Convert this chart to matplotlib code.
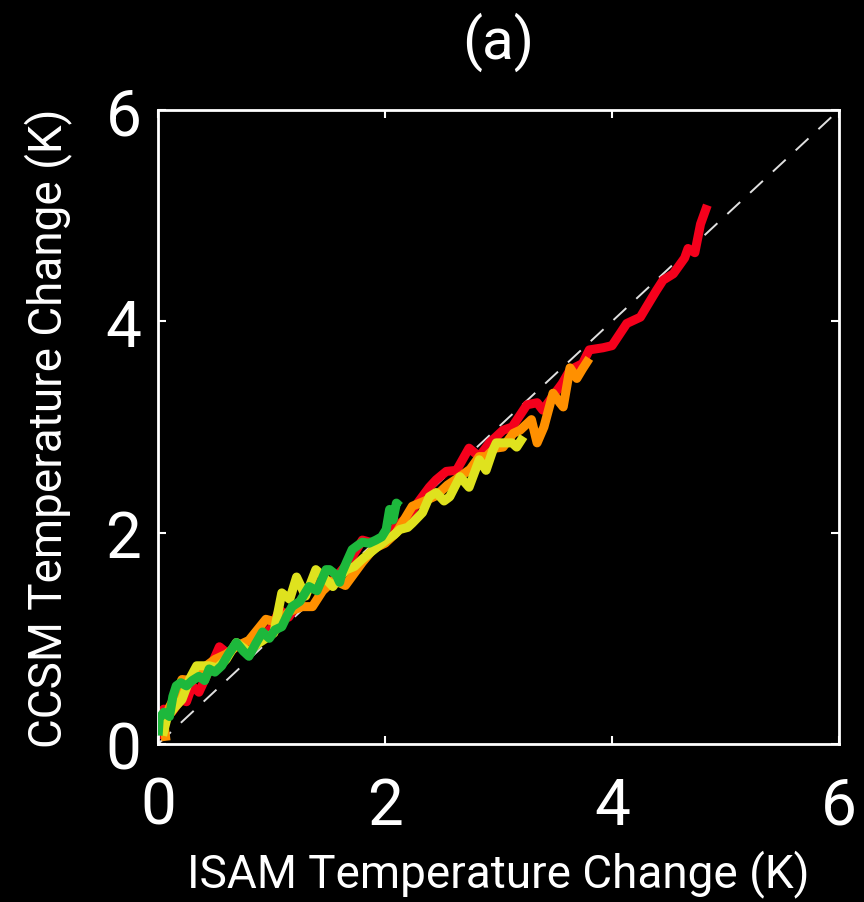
import numpy as np
import matplotlib
matplotlib.use("Agg")
import matplotlib.pyplot as plt

plt.rcParams["font.family"] = ["Roboto", "DejaVu Sans"]

# warming pathways, ISAM vs CCSM temperature change (K)
red_x = [0.0, 0.02, 0.05, 0.12, 0.2, 0.25, 0.3, 0.36, 0.45, 0.54, 0.62, 0.7, 0.8, 0.9, 1.0,
         1.07, 1.15, 1.25, 1.39, 1.5, 1.6, 1.7, 1.8, 1.9, 2.0, 2.1, 2.2, 2.3, 2.39, 2.45,
         2.54, 2.63, 2.74, 2.83, 2.92, 3.04, 3.12, 3.25, 3.34, 3.39, 3.47, 3.56, 3.63, 3.74,
         3.80, 3.92, 4.0, 4.13, 4.25, 4.3, 4.39, 4.45, 4.54, 4.64, 4.67, 4.73, 4.78, 4.84]
red_y = [0.05, 0.2, 0.33, 0.3, 0.42, 0.40, 0.55, 0.49, 0.7, 0.92, 0.85, 0.95, 0.92, 1.0, 1.1,
         1.27, 1.2, 1.35, 1.56, 1.5, 1.62, 1.75, 1.93, 1.9, 1.95, 2.06, 2.15, 2.3, 2.43, 2.5,
         2.58, 2.59, 2.80, 2.72, 2.85, 2.97, 3.0, 3.21, 3.23, 3.16, 3.28, 3.41, 3.54, 3.6,
         3.73, 3.75, 3.77, 3.98, 4.04, 4.13, 4.29, 4.39, 4.45, 4.60, 4.69, 4.65, 4.92, 5.1]

orange_x = [0.07, 0.05, 0.1, 0.15, 0.21, 0.3, 0.4, 0.5, 0.6, 0.7, 0.8, 0.95, 1.05, 1.15, 1.27,
            1.36, 1.45, 1.55, 1.65, 1.8, 1.9, 2.0, 2.1, 2.24, 2.35, 2.45, 2.55, 2.66, 2.75,
            2.83, 2.89, 2.97, 3.04, 3.13, 3.19, 3.26, 3.29, 3.34, 3.40, 3.48, 3.54, 3.57,
            3.63, 3.69, 3.74, 3.80]
orange_y = [0.03, 0.2, 0.35, 0.45, 0.61, 0.6, 0.72, 0.8, 0.85, 0.93, 0.98, 1.18, 1.15, 1.25, 1.3,
            1.30, 1.45, 1.55, 1.5, 1.72, 1.85, 1.9, 2.0, 2.25, 2.3, 2.35, 2.45, 2.53, 2.6,
            2.72, 2.72, 2.8, 2.81, 2.94, 2.97, 3.04, 3.07, 2.85, 3.0, 3.32, 3.23, 3.19,
            3.56, 3.46, 3.55, 3.65]

yellow_x = [0.04, 0.08, 0.15, 0.21, 0.28, 0.34, 0.45, 0.52, 0.60, 0.69, 0.80, 0.88, 0.95, 1.02,
            1.09, 1.16, 1.22, 1.30, 1.39, 1.46, 1.54, 1.60, 1.66, 1.73, 1.80, 1.88, 1.95, 2.01,
            2.08, 2.13, 2.2, 2.24, 2.33, 2.39, 2.45, 2.52, 2.57, 2.66, 2.74, 2.83, 2.89, 2.95,
            2.98, 3.04, 3.12, 3.16, 3.22]
yellow_y = [0.08, 0.25, 0.35, 0.42, 0.62, 0.74, 0.74, 0.72, 0.80, 0.96, 0.87, 0.95, 1.0, 1.05,
            1.43, 1.37, 1.58, 1.40, 1.65, 1.58, 1.49, 1.58, 1.65, 1.68, 1.75, 1.82, 1.88, 1.93,
            1.98, 2.03, 2.05, 2.09, 2.19, 2.34, 2.38, 2.30, 2.34, 2.53, 2.43, 2.69, 2.59, 2.78,
            2.85, 2.85, 2.85, 2.81, 2.91]

green_x = [0.0, 0.01, 0.05, 0.10, 0.13, 0.16, 0.20, 0.25, 0.30, 0.36, 0.41, 0.45, 0.50, 0.56,
           0.62, 0.69, 0.75, 0.80, 0.86, 0.92, 0.98, 1.03, 1.09, 1.13, 1.18, 1.25, 1.33, 1.40,
           1.48, 1.51, 1.57, 1.60, 1.62, 1.66, 1.71, 1.76, 1.80, 1.86, 1.92, 1.97, 2.01, 2.04,
           2.07, 2.10, 2.13]
green_y = [0.08, 0.24, 0.3, 0.26, 0.45, 0.55, 0.58, 0.55, 0.60, 0.64, 0.60, 0.71, 0.68, 0.74,
           0.85, 0.96, 0.88, 0.83, 0.95, 1.06, 1.0, 1.08, 1.11, 1.2, 1.30, 1.35, 1.49, 1.45,
           1.65, 1.65, 1.60, 1.53, 1.62, 1.72, 1.84, 1.88, 1.91, 1.90, 1.93, 1.96, 2.03, 2.22,
           2.12, 2.28, 2.25]

ticks = [0, 2, 4, 6]

fig = plt.figure(figsize=(8.64, 9.03), dpi=100, facecolor="black")
ax = fig.add_axes([0.183, 0.175, 0.788, 0.702], facecolor="black")

ax.plot([0, 6], [0, 6], color="#e0e0e0", lw=1.4, dashes=(9, 7), zorder=1)
ax.plot(red_x, red_y, color="#f5001c", lw=6.5, solid_capstyle="butt", zorder=2)
ax.plot(orange_x, orange_y, color="#ff9000", lw=6.5, solid_capstyle="butt", zorder=3)
ax.plot(yellow_x, yellow_y, color="#dfe21e", lw=6.5, solid_capstyle="butt", zorder=4)
ax.plot(green_x, green_y, color="#1db83c", lw=6.5, solid_capstyle="butt", zorder=5)

ax.set_xlim(0, 6)
ax.set_ylim(0, 6)
ax.set_xticks(ticks)
ax.set_yticks(ticks)

for s in ax.spines.values():
    s.set_color("white")
    s.set_linewidth(2)

ax.tick_params(direction="in", length=6, width=1.5, colors="white",
               top=True, right=True, labelsize=46)
ax.tick_params(axis="x", pad=22)
ax.tick_params(axis="y", pad=12)

ax.set_xlabel("ISAM Temperature Change (K)", color="white", fontsize=33, labelpad=9)
ax.set_ylabel("CCSM Temperature Change (K)", color="white", fontsize=33, labelpad=24)
ax.set_title("(a)", color="white", fontsize=42, pad=38)

fig.savefig("out.png", dpi=100, facecolor="black")
